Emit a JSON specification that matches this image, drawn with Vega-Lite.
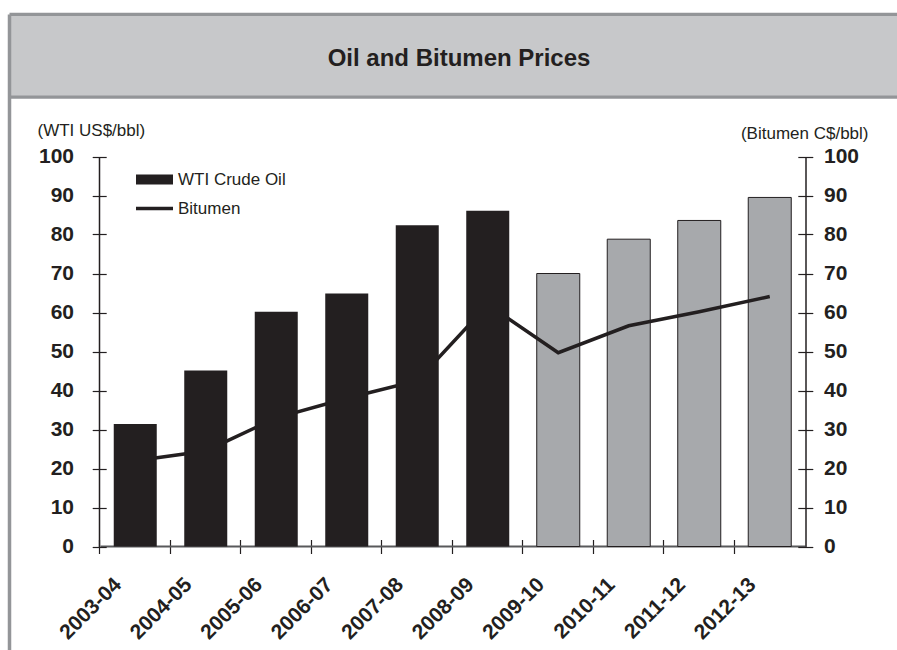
{
  "$schema": "https://vega.github.io/schema/vega-lite/v6.json",
  "width": 888,
  "height": 636,
  "autosize": {"type": "none"},
  "padding": {"left": 9, "top": 14, "right": 0, "bottom": 0},
  "background": "white",
  "data": {
    "values": [
      {"year": "2003-04", "wti": 31.4, "bitumen": 22.0, "status": "Actual"},
      {"year": "2004-05", "wti": 45.1, "bitumen": 24.5, "status": "Actual"},
      {"year": "2005-06", "wti": 60.2, "bitumen": 33.0, "status": "Actual"},
      {"year": "2006-07", "wti": 64.9, "bitumen": 38.0, "status": "Actual"},
      {"year": "2007-08", "wti": 82.4, "bitumen": 42.5, "status": "Actual"},
      {"year": "2008-09", "wti": 86.1, "bitumen": 62.0, "status": "Actual"},
      {"year": "2009-10", "wti": 70.0, "bitumen": 49.7, "status": "Forecast"},
      {"year": "2010-11", "wti": 78.8, "bitumen": 56.6, "status": "Forecast"},
      {"year": "2011-12", "wti": 83.6, "bitumen": 60.2, "status": "Forecast"},
      {"year": "2012-13", "wti": 89.5, "bitumen": 64.1, "status": "Forecast"}
    ]
  },
  "resolve": {"scale": {"x": "independent", "y": "independent"}},
  "layer": [
    {
      "mark": {"type": "point", "opacity": 0},
      "encoding": {
        "x": {"datum": 0, "type": "quantitative", "scale": {"domain": [0, 1]},
          "axis": {"orient": "top", "offset": 0, "domain": true, "domainColor": "#939598", "domainWidth": 3.5, "ticks": false, "labels": false, "title": null}},
        "y": {"datum": 0, "type": "quantitative", "scale": {"domain": [0, 1]},
          "axis": {"orient": "left", "offset": 0, "domain": true, "domainColor": "#939598", "domainWidth": 3.5, "ticks": false, "labels": false, "title": null}}
      }
    },
    {
      "mark": {"type": "point", "opacity": 0},
      "encoding": {
        "x": {"datum": 0, "type": "quantitative", "scale": {"domain": [0, 1]},
          "axis": {"orient": "top", "offset": -41, "domain": true, "domainColor": "#c7c8ca", "domainWidth": 79, "ticks": false, "labels": false,
            "title": "Oil and Bitumen Prices", "titleX": 449.5, "titleY": 3, "titleAlign": "center", "titleBaseline": "middle", "titleAngle": 0,
            "titleFont": "Liberation Sans", "titleFontSize": 24, "titleFontWeight": "bold", "titleColor": "#231f20"}}
      }
    },
    {
      "mark": {"type": "point", "opacity": 0},
      "encoding": {
        "x": {"datum": 0, "type": "quantitative", "scale": {"domain": [0, 1]},
          "axis": {"orient": "top", "offset": -82.5, "domain": true, "domainColor": "#939598", "domainWidth": 3.5, "ticks": false, "labels": false, "title": null}}
      }
    },
    {
      "transform": [{"filter": "datum.status === 'Forecast'"}],
      "mark": {"type": "bar", "fill": "#a7a9ac", "stroke": "#231f20", "strokeWidth": 1},
      "encoding": {
        "x": {"field": "year", "type": "nominal", "sort": null,
          "scale": {"type": "band", "domain": ["2003-04", "2004-05", "2005-06", "2006-07", "2007-08", "2008-09", "2009-10", "2010-11", "2011-12", "2012-13"], "range": [91, 796], "paddingInner": 0.39, "paddingOuter": 0.195},
          "axis": {"orient": "bottom", "offset": -110.5, "domain": false, "ticks": true, "tickSize": 14, "tickColor": "#231f20", "tickWidth": 1.2, "bandPosition": -0.3197,
            "labelAngle": -45, "labelAlign": "right", "labelBaseline": "top", "labelOffset": -24.75, "labelPadding": 20,
            "labelFont": "Liberation Sans", "labelFontSize": 21, "labelFontWeight": "bold", "labelColor": "#231f20", "title": null}},
        "y": {"field": "wti", "type": "quantitative",
          "scale": {"domain": [0, 100], "range": [532.5, 142.5], "nice": false, "zero": false},
          "axis": {"orient": "left", "offset": -97.2, "domain": false, "values": [0, 10, 20, 30, 40, 50, 60, 70, 80, 90, 100], "tickSize": 14, "tickColor": "#231f20", "tickWidth": 1.2,
            "labelPadding": 18.7, "labelFont": "Liberation Sans", "labelFontSize": 21, "labelFontWeight": "bold", "labelColor": "#231f20",
            "title": "(WTI US$/bbl)", "titleAngle": 0, "titleX": -69.2, "titleY": 116, "titleAlign": "left", "titleBaseline": "middle",
            "titleFont": "Liberation Sans", "titleFontSize": 17, "titleFontWeight": "normal", "titleColor": "#231f20"}}
      }
    },
    {
      "mark": {"type": "line", "stroke": "#231f20", "strokeWidth": 3.5},
      "encoding": {
        "x": {"field": "year", "type": "nominal", "sort": null,
          "scale": {"type": "band", "domain": ["2003-04", "2004-05", "2005-06", "2006-07", "2007-08", "2008-09", "2009-10", "2010-11", "2011-12", "2012-13"], "range": [91, 796], "paddingInner": 0.39, "paddingOuter": 0.195},
          "axis": {"orient": "bottom", "offset": -104, "domain": true, "domainColor": "#58595b", "domainWidth": 2, "ticks": false, "labels": false, "title": null}},
        "y": {"field": "bitumen", "type": "quantitative",
          "scale": {"domain": [0, 100], "range": [532.5, 142.5], "nice": false, "zero": false},
          "axis": {"orient": "right", "offset": -99.2, "domain": false, "values": [0, 10, 20, 30, 40, 50, 60, 70, 80, 90, 100], "tickSize": 15, "tickColor": "#231f20", "tickWidth": 1.2,
            "labelPadding": 10.7, "labelFont": "Liberation Sans", "labelFontSize": 21, "labelFontWeight": "bold", "labelColor": "#231f20",
            "title": "(Bitumen C$/bbl)", "titleAngle": 0, "titleX": 70.2, "titleY": 119, "titleAlign": "right", "titleBaseline": "middle",
            "titleFont": "Liberation Sans", "titleFontSize": 17, "titleFontWeight": "normal", "titleColor": "#231f20"}}
      }
    },
    {
      "transform": [{"filter": "datum.status === 'Actual'"}],
      "mark": {"type": "bar"},
      "encoding": {
        "x": {"field": "year", "type": "nominal", "sort": null,
          "scale": {"type": "band", "domain": ["2003-04", "2004-05", "2005-06", "2006-07", "2007-08", "2008-09", "2009-10", "2010-11", "2011-12", "2012-13"], "range": [91, 796], "paddingInner": 0.39, "paddingOuter": 0.195},
          "axis": null},
        "y": {"field": "wti", "type": "quantitative",
          "scale": {"domain": [0, 100], "range": [532.5, 142.5], "nice": false, "zero": false},
          "axis": {"orient": "left", "offset": -90, "domain": true, "domainColor": "#231f20", "domainWidth": 1.5, "ticks": false, "labels": false, "title": null}},
        "color": {"datum": "WTI Crude Oil", "type": "nominal",
          "scale": {"domain": ["WTI Crude Oil", "Bitumen"], "range": ["#231f20", "#231f20"]},
          "legend": {"orient": "none", "legendX": 137, "legendY": 157, "title": null, "padding": 0,
            "symbolSize": 1369, "labelFont": "Liberation Sans", "labelFontSize": 17, "labelColor": "#231f20", "labelOffset": 15, "rowPadding": 11,
            "encode": {"symbols": {"update": {
              "shape": {"signal": "datum.value === 'Bitumen' ? 'stroke' : 'M-1,-0.27H1V0.27H-1Z'"},
              "fill": {"signal": "datum.value === 'Bitumen' ? 'transparent' : '#231f20'"},
              "stroke": {"value": "#231f20"},
              "strokeWidth": {"signal": "datum.value === 'Bitumen' ? 3.5 : 0"},
              "opacity": {"value": 1}
            }}}}}
      }
    },
    {
      "mark": {"type": "point", "opacity": 0},
      "encoding": {
        "y": {"datum": 0, "type": "quantitative",
          "scale": {"domain": [0, 100], "range": [532.5, 142.5], "nice": false, "zero": false},
          "axis": {"orient": "right", "offset": -91.5, "domain": true, "domainColor": "#231f20", "domainWidth": 1.5, "ticks": false, "labels": false, "title": null}}
      }
    }
  ],
  "config": {
    "view": {"stroke": null},
    "font": "Liberation Sans",
    "axis": {"grid": false}
  }
}
